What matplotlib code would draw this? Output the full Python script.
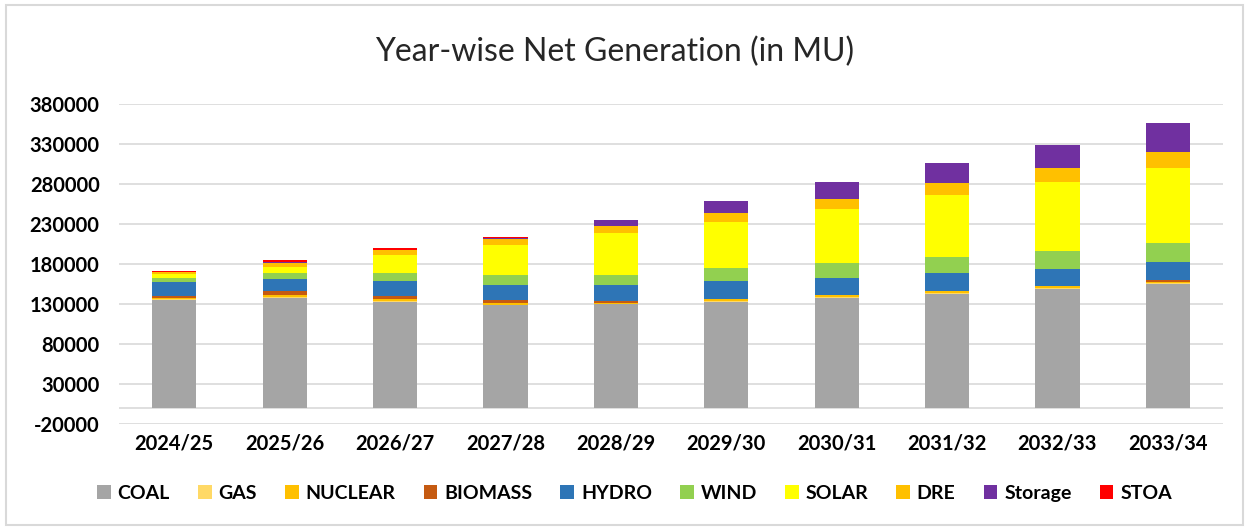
import numpy as np
import matplotlib
matplotlib.use("Agg")
import matplotlib.pyplot as plt
from matplotlib.patches import Rectangle, Patch

plt.rcParams['font.family'] = ['Lato', 'DejaVu Sans']
plt.rcParams['axes.unicode_minus'] = False

years = ['2024/25', '2025/26', '2026/27', '2027/28', '2028/29',
         '2029/30', '2030/31', '2031/32', '2032/33', '2033/34']

coal = [134600, 137500, 132900, 128300, 129600, 132900, 137900, 142500, 148750, 155400]
gas = [1200, 1300, 1300, 900, 500, 700, 700, 700, 700, 600]
nuclear = [1800, 2100, 2000, 2000, 1200, 2200, 2600, 2600, 3050, 1900]
biomass = [2900, 5000, 3300, 3750, 2000, 500, 300, 300, 300, 2100]
hydro = [17500, 15800, 19200, 18750, 20400, 22900, 20800, 22500, 20800, 22900]
wind = [4600, 7500, 9600, 12900, 12900, 15800, 18750, 19600, 22500, 23750]
solar = [5000, 7100, 23300, 37100, 51700, 57900, 67900, 78300, 86250, 93300]
dre = [2000, 5400, 6000, 7500, 9200, 10800, 12500, 14200, 17500, 20400]
storage = [200, 300, 300, 1300, 7900, 14600, 20800, 25800, 29200, 35400]
stoa = [1200, 2500, 2000, 1500, 0, 0, 0, 0, 0, 0]

series = [('COAL', coal, '#A5A5A5'),
          ('GAS', gas, '#FFD966'),
          ('NUCLEAR', nuclear, '#FFC000'),
          ('BIOMASS', biomass, '#C55A11'),
          ('HYDRO', hydro, '#2E75B6'),
          ('WIND', wind, '#92D050'),
          ('SOLAR', solar, '#FFFF00'),
          ('DRE', dre, '#FFC000'),
          ('Storage', storage, '#7030A0'),
          ('STOA', stoa, '#FF0000')]

fig = plt.figure(figsize=(12.49, 5.29), dpi=100)
ax = fig.add_axes([0.0953, 0.1985, 0.8839, 0.6049])

# chart border
fig.patches.append(Rectangle((0.005, 0.008), 0.99, 0.982, transform=fig.transFigure,
                             fill=False, edgecolor='#D9D9D9', linewidth=1.5))

x = np.arange(len(years))
bottom = np.zeros(len(years))
handles = []
for name, vals, col in series:
    vals = np.array(vals, dtype=float)
    ax.bar(x, vals, 0.4, bottom=bottom, color=col, edgecolor='none',
           linewidth=0, zorder=3)
    bottom += vals
    handles.append(Patch(facecolor=col, edgecolor='none', label=name))

ax.set_ylim(-20000, 380000)
ax.set_xlim(-0.5, len(years) - 0.5)
ax.set_yticks(np.arange(-20000, 380001, 50000))
ax.yaxis.grid(True, color='#D9D9D9', linewidth=1.2, zorder=0)
ax.axhline(0, color='#D9D9D9', linewidth=1.2, zorder=1)
for s in ax.spines.values():
    s.set_visible(False)
ax.tick_params(axis='both', length=0, labelsize=14.5)
ax.tick_params(axis='y', pad=14)
ax.tick_params(axis='x', pad=7)
ax.set_xticks(x)
ax.set_xticklabels(years, fontweight='bold')
for t in ax.get_yticklabels():
    t.set_fontweight('bold')

fig.text(0.492, 0.902, 'Year-wise Net Generation (in MU)', ha='center', va='center',
         fontsize=23, color='#262626')

fig.legend(handles=handles, loc='center', bbox_to_anchor=(0.508, 0.068), ncol=10,
           frameon=False, prop={'weight': 'bold', 'size': 14},
           handlelength=0.7, handleheight=0.7, handletextpad=0.35, columnspacing=1.45)

fig.savefig('out.png', dpi=100)
